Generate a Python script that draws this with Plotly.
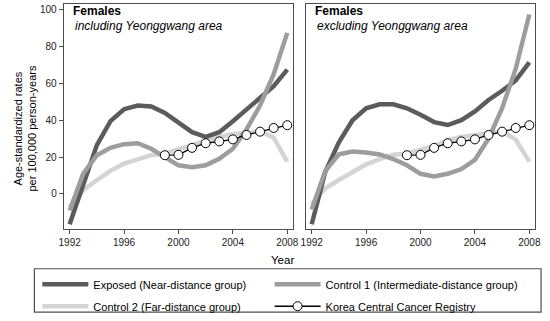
import plotly.graph_objects as go
from plotly.subplots import make_subplots

years = list(range(1992, 2009))
kccr_years = list(range(1999, 2009))

# Left panel: including Yeonggwang area
exposed_incl = [-16.5, 5.5, 26.5, 39.5, 46.0, 48.0, 47.5, 44.0, 39.0, 33.5, 31.0, 33.5, 39.5, 46.0, 52.0, 58.5, 67.5]
control1_incl = [-9.0, 11.0, 21.0, 25.0, 27.0, 27.5, 24.5, 20.0, 15.5, 14.5, 15.5, 19.0, 24.5, 35.0, 48.0, 65.0, 87.5]
control2_incl = [-7.0, 2.0, 7.5, 12.5, 16.5, 19.0, 21.0, 22.0, 24.0, 26.5, 29.0, 31.0, 32.5, 33.0, 34.0, 30.5, 17.5]

# Right panel: excluding Yeonggwang area
exposed_excl = [-16.5, 12.0, 28.0, 40.0, 46.5, 48.7, 48.7, 46.5, 43.0, 39.0, 37.4, 40.0, 44.8, 51.0, 56.0, 61.7, 71.5]
control1_excl = [-8.5, 12.5, 21.5, 23.0, 22.5, 21.4, 18.9, 15.5, 10.9, 9.5, 10.9, 13.5, 18.5, 30.0, 46.5, 68.0, 97.5]
control2_excl = [-5.5, 3.0, 7.5, 11.8, 16.0, 18.9, 21.3, 21.8, 24.0, 26.0, 29.0, 31.0, 31.8, 33.0, 34.0, 29.5, 17.5]

# Korea Central Cancer Registry (same national series in both panels)
kccr = [21.0, 21.2, 25.0, 27.5, 28.5, 29.6, 32.0, 33.8, 35.8, 37.3]

names = ["Exposed (Near-distance group)", "Control 1 (Intermediate-distance group)",
         "Control 2 (Far-distance group)", "Korea Central Cancer Registry"]
panel_titles = ["including Yeonggwang area", "excluding Yeonggwang area"]
x_ticks = [1992, 1996, 2000, 2004, 2008]
y_ticks = [0, 20, 40, 60, 80, 100]

c_exp = "#5b5b5b"
c_c1 = "#9d9d9d"
c_c2 = "#d4d4d4"
FONT = "Liberation Sans, Arial, sans-serif"

fig = make_subplots(rows=1, cols=2, shared_yaxes=False)

panels = [(exposed_incl, control1_incl, control2_incl), (exposed_excl, control1_excl, control2_excl)]
for i, (ex, c1, c2) in enumerate(panels):
    col = i + 1
    show = (i == 0)
    fig.add_trace(go.Scatter(x=years, y=c2, mode="lines", name=names[2], legend="legend",
                             legendgroup="c2", legendrank=2,
                             line=dict(color=c_c2, width=4.5), showlegend=show), row=1, col=col)
    fig.add_trace(go.Scatter(x=years, y=ex, mode="lines", name=names[0], legend="legend",
                             legendgroup="ex", legendrank=1,
                             line=dict(color=c_exp, width=4.5), showlegend=show), row=1, col=col)
    fig.add_trace(go.Scatter(x=years, y=c1, mode="lines", name=names[1], legend="legend2",
                             legendgroup="c1", legendrank=1,
                             line=dict(color=c_c1, width=4.5), showlegend=show), row=1, col=col)
    fig.add_trace(go.Scatter(x=kccr_years, y=kccr, mode="lines+markers", name=names[3], legend="legend2",
                             legendgroup="kc", legendrank=2,
                             line=dict(color="black", width=1.3),
                             marker=dict(symbol="circle", size=9, color="white",
                                         line=dict(color="black", width=1)),
                             showlegend=show), row=1, col=col)

W, H = 550, 321
ydom = [1 - 233 / H, 1 - 4 / H]
axis_common = dict(showline=True, mirror=True, linecolor="#4d4d4d", linewidth=1.2,
                   showgrid=False, zeroline=False, ticks="outside", ticklen=4,
                   tickcolor="#4d4d4d", tickfont=dict(size=10, color="#222222", family=FONT))

fig.update_layout(
    xaxis=dict(domain=[60 / W, 294 / W], range=[1991.57, 2008.43], tickvals=x_ticks, **axis_common),
    xaxis2=dict(domain=[307 / W, 541 / W], range=[1991.57, 2008.43], tickvals=x_ticks, **axis_common),
    yaxis=dict(domain=ydom, range=[-19.3, 103.2], tickvals=y_ticks, **axis_common),
    yaxis2=dict(domain=ydom, range=[-19.3, 103.2], tickvals=y_ticks, showticklabels=False,
                **{k: v for k, v in axis_common.items() if k != "ticks"}, ticks=""),
)

annotations = []
for xpx, sub in [(67, panel_titles[0]), (314, panel_titles[1])]:
    annotations.append(dict(x=xpx / W, y=1 - 11 / H, xref="paper", yref="paper", xanchor="left",
                            yanchor="middle", showarrow=False, text="<b>Females</b>",
                            font=dict(size=12, color="black", family=FONT)))
    annotations.append(dict(x=(xpx + 2) / W, y=1 - 26 / H, xref="paper", yref="paper", xanchor="left",
                            yanchor="middle", showarrow=False, text="<i>" + sub + "</i>",
                            font=dict(size=12, color="black", family=FONT)))
annotations.append(dict(x=20 / W, y=1 - 131 / H, xref="paper", yref="paper", xanchor="center",
                        yanchor="middle", showarrow=False, textangle=-90,
                        text="Age-standardized rates<br>per 100,000 person-years",
                        font=dict(size=11, color="black", family=FONT)))
annotations.append(dict(x=283 / W, y=1 - 264 / H, xref="paper", yref="paper", xanchor="center",
                        yanchor="middle", showarrow=False, text="Year",
                        font=dict(size=11.5, color="black", family=FONT)))

legend_common = dict(orientation="v", yanchor="top", xanchor="left", itemwidth=46,
                     borderwidth=0, bgcolor="rgba(0,0,0,0)", tracegroupgap=3,
                     font=dict(size=11, family=FONT, color="black"), traceorder="grouped")

fig.update_layout(
    width=W, height=H,
    margin=dict(l=0, r=0, t=0, b=0),
    paper_bgcolor="white", plot_bgcolor="white",
    font=dict(family=FONT, size=11, color="black"),
    annotations=annotations,
    shapes=[dict(type="rect", xref="paper", yref="paper", x0=30 / W, x1=547 / W,
                 y0=1 - 317 / H, y1=1 - 273 / H, line=dict(color="#4d4d4d", width=1.2),
                 fillcolor="rgba(0,0,0,0)", layer="above")],
    legend=dict(x=33 / W, y=1 - 274 / H, **legend_common),
    legend2=dict(x=270 / W, y=1 - 274 / H, **legend_common),
)

fig.write_html("out.html", config={"displayModeBar": False},
               post_script="document.body.style.margin='0';document.body.style.overflow='hidden';")
